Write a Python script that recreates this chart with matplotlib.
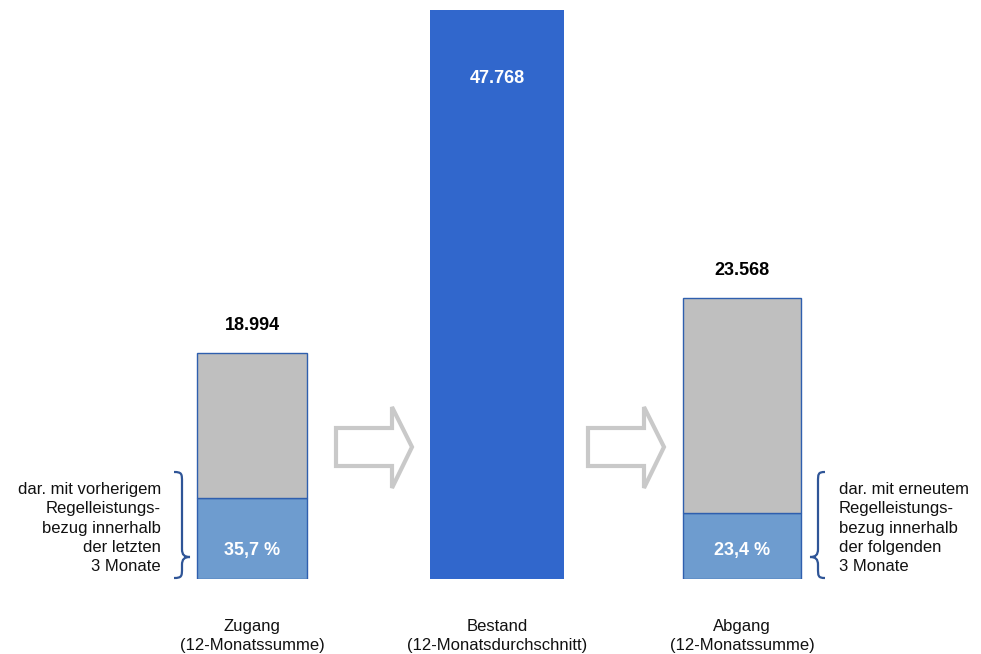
import matplotlib
matplotlib.use("Agg")
import matplotlib.pyplot as plt
from matplotlib.path import Path
from matplotlib.patches import PathPatch, Polygon

plt.rcParams['font.family'] = ['Liberation Sans', 'DejaVu Sans']

categories = ["Zugang\n(12-Monatssumme)", "Bestand\n(12-Monatsdurchschnitt)", "Abgang\n(12-Monatssumme)"]
totals = [18994, 47768, 23568]
shares = [35.7, None, 23.4]          # percent with benefit receipt
total_labels = ["18.994", "47.768", "23.568"]
share_labels = ["35,7 %", None, "23,4 %"]
side_left = "dar. mit vorherigem\nRegelleistungs-\nbezug innerhalb\nder letzten\n3 Monate"
side_right = "dar. mit erneutem\nRegelleistungs-\nbezug innerhalb\nder folgenden\n3 Monate"

W, H = 981, 654
fig = plt.figure(figsize=(W / 100, H / 100), dpi=100)

def fx(px):
    return px / W

def fy(py):
    return 1 - py / H

ax = fig.add_axes([0, 75 / H, 1, 579 / H])
ax.set_ylim(0, 47768 * 579 / 569)
ax.set_xlim(1 - 497 / 245, 1 + (W - 497) / 245)
ax.axis('off')

widths = [0.45, 0.551, 0.482]
gray = "#bfbfbf"
light_blue = "#6e9ccf"
edge = "#2f5fae"
dark_blue = "#3167cc"

for i, (tot, sh) in enumerate(zip(totals, shares)):
    if sh is None:
        ax.bar(i, tot, width=widths[i], color=dark_blue, edgecolor=dark_blue, linewidth=0)
        ax.text(i, tot * 0.88, total_labels[i], ha='center', va='center',
                color='white', fontsize=13, fontweight='bold')
    else:
        low = tot * sh / 100
        ax.bar(i, low, width=widths[i], color=light_blue, edgecolor=edge, linewidth=1)
        ax.bar(i, tot - low, bottom=low, width=widths[i], color=gray, edgecolor=edge, linewidth=1)
        ax.text(i, tot + 2300, total_labels[i], ha='center', va='center',
                color='black', fontsize=13, fontweight='bold')
        ax.text(i, 2400, share_labels[i], ha='center', va='center',
                color='white', fontsize=13, fontweight='bold')
    ax.text(i, -4750, categories[i], ha='center', va='center', fontsize=12,
            color='#111111', linespacing=1.32, clip_on=False)

# hollow block arrows
def block_arrow(x0):
    pts = [(x0, 428), (x0 + 56, 428), (x0 + 56, 407), (x0 + 76, 447),
           (x0 + 56, 488), (x0 + 56, 466), (x0, 466)]
    poly = Polygon([(fx(x), fy(y)) for x, y in pts], closed=True, fill=False,
                   edgecolor='#c9c9c9', linewidth=3, joinstyle='miter',
                   transform=fig.transFigure)
    fig.patches.append(poly)

block_arrow(336)
block_arrow(588)

# braces
def brace(xe, xl, xc, ytop, ycusp, ybot):
    verts = [
        (xe, ytop),
        (xl, ytop), (xl, ytop + 2), (xl, ytop + 10),
        (xl, ycusp - 8),
        (xl, ycusp - 2), (xl + (xc - xl) * 0.3, ycusp), (xc, ycusp),
        (xl + (xc - xl) * 0.3, ycusp), (xl, ycusp + 2), (xl, ycusp + 8),
        (xl, ybot - 10),
        (xl, ybot - 2), (xl, ybot), (xe, ybot),
    ]
    codes = [Path.MOVETO,
             Path.CURVE4, Path.CURVE4, Path.CURVE4,
             Path.LINETO,
             Path.CURVE4, Path.CURVE4, Path.CURVE4,
             Path.CURVE4, Path.CURVE4, Path.CURVE4,
             Path.LINETO,
             Path.CURVE4, Path.CURVE4, Path.CURVE4]
    p = Path([(fx(x), fy(y)) for x, y in verts], codes)
    fig.patches.append(PathPatch(p, fill=False, edgecolor='#2f5597', linewidth=1.6,
                                 transform=fig.transFigure))

brace(174, 182, 190, 472, 557, 578)
brace(825, 818, 810, 472, 557, 578)

fig.text(fx(161), fy(528), side_left, ha='right', va='center', fontsize=12,
         color='#111111', linespacing=1.36, multialignment='right')
fig.text(fx(839), fy(528), side_right, ha='left', va='center', fontsize=12,
         color='#111111', linespacing=1.36, multialignment='left')

fig.savefig("out.png", dpi=100)
